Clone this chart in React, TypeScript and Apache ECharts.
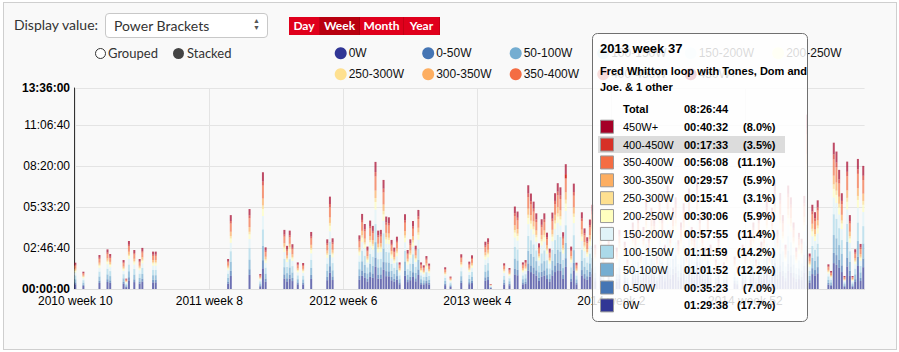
import React, { useEffect, useRef } from "react";
import * as echarts from "echarts";

// ---------- data ----------
const START_YEAR = 2010;
const START_WEEK = 10;
const WEEKS_PER_YEAR = 52;
const WEEK_COUNT = 295;

const categories: string[] = [];
for (let i = 0; i < WEEK_COUNT; i++) {
  const n = START_WEEK - 1 + i;
  categories.push(`${START_YEAR + Math.floor(n / WEEKS_PER_YEAR)} week ${(n % WEEKS_PER_YEAR) + 1}`);
}

const brackets = ["0W", "0-50W", "50-100W", "100-150W", "150-200W", "200-250W", "250-300W", "300-350W", "350-400W", "400-450W", "450W+"];
const bracketColors = ["#313695", "#4575b4", "#74add1", "#abd9e9", "#e0f3f8", "#ffffbf", "#fee090", "#fdae61", "#f46d43", "#d73027", "#a50026"];

// weekly total ride time (hours)
const weeklyTotalHours = [
  1.78, 0, 0, 1.17, 0, 0, 0, 0, 0, 2.3,
  0, 0, 2.68, 2.37, 0, 0, 0, 0, 1.96, 0.7,
  3.25, 0, 2.64, 0, 2.03, 2.78, 0, 0, 0, 2.53,
  2.53, 0, 0, 0, 0, 0, 0, 0, 0, 0,
  0, 0, 0, 0, 0, 0, 0, 0, 0, 0,
  0, 0, 0, 0, 0, 0, 0, 2.03, 5.0, 0,
  0, 0, 0, 0, 0, 5.41, 0, 0, 0, 1.01,
  7.9, 2.82, 0, 0, 0, 0, 0, 0, 4.0, 2.92,
  3.95, 3.03, 0, 1.8, 0, 1.76, 0, 0, 3.86, 0,
  0, 0, 0, 0, 3.36, 6.25, 3.43, 0, 0, 0,
  0, 0, 0, 0, 0, 0, 3.63, 5.08, 4.4, 2.87,
  4.63, 4.27, 8.6, 3.95, 4.0, 7.38, 4.9, 4.85, 3.32, 2.8,
  3.54, 1.8, 0, 5.06, 2.64, 3.36, 4.6, 2.93, 5.35, 1.8,
  1.6, 2.23, 1.72, 0, 0, 0, 0, 0, 1.47, 0,
  0.84, 0, 0, 0, 2.35, 0, 0, 1.85, 2.28, 0,
  0, 0, 0, 3.2, 3.43, 0.34, 0, 0, 0, 0,
  1.74, 0, 1.42, 0, 5.58, 5.24, 0, 1.8, 1.96, 7.02,
  6.46, 5.91, 5.12, 3.09, 4.72, 5.12, 3.81, 2.73, 5.17, 6.48,
  7.16, 6.88, 3.84, 8.4456, 0, 2.87, 7.13, 1.78, 0, 5.19,
  4.1, 3.5, 4.7, 5.7, 3.0, 0, 4.2, 2.5, 0, 3.5,
  1.5, 0, 2.8, 4.0, 0, 3.2, 2.0, 0, 4.5, 3.8,
  5.0, 2.5, 4.2, 6.0, 3.5, 5.5, 4.8, 2.2, 6.5, 5.0,
  3.0, 7.0, 4.0, 5.5, 6.2, 3.3, 4.5, 5.8, 2.5, 6.8,
  4.2, 3.6, 7.5, 5.0, 4.0, 2.8, 5.2, 3.0, 0, 2.0,
  3.5, 0, 1.8, 2.6, 0, 0, 2.2, 1.5, 0, 3.0,
  2.4, 0, 3.8, 4.5, 2.0, 5.0, 3.2, 4.0, 6.0, 2.5,
  5.5, 7.2, 4.0, 6.5, 5.0, 3.0, 7.0, 6.2, 4.5, 2.8,
  3.8, 3.4, 6.3, 11.8, 2.4, 5.7, 5.2, 6.0, 0, 0,
  0, 1.67, 1.22, 9.9, 9.3, 8.06, 6.48, 0.88, 8.62, 5.0,
  0.88, 2.69, 8.8, 3.05, 8.33,
];

// breakdown of the hovered week (2013 week 37), seconds per bracket (0W .. 450W+)
const hoverIndex = 183;
const hoverBracket = 9; // 400-450W row highlighted
const hoverBreakdownSec = [5378, 2123, 3712, 4319, 3475, 1806, 941, 1797, 3368, 1053, 2432];
const hoverTitle = "2013 week 37";
const hoverRideLines = ["Fred Whitton loop with Tones, Dom and", "Joe. & 1 other"];

const yTickMax = 48960;
const yTickInterval = 10000;

// legend columns (two rows)
const legendColumns = [
  ["0W", "250-300W"],
  ["0-50W", "300-350W"],
  ["50-100W", "350-400W"],
  ["100-150W", "400-450W"],
  ["150-200W", "450W+"],
  ["200-250W"],
];

// ---------- helpers ----------
const hms = (s: number) => {
  const h = Math.floor(s / 3600);
  const m = Math.floor((s % 3600) / 60);
  const sec = Math.round(s % 60);
  const p = (n: number) => String(n).padStart(2, "0");
  return `${p(h)}:${p(m)}:${p(sec)}`;
};

const hoverTotal = hoverBreakdownSec.reduce((a, b) => a + b, 0);

function buildOption() {
  const series = brackets.map((name, k) => ({
    name,
    type: "bar",
    stack: "total",
    barCategoryGap: "25%",
    silent: true,
    itemStyle: { color: bracketColors[k], opacity: 0.7 },
    emphasis: { disabled: true },
    data: weeklyTotalHours.map((h, i) => {
      if (i === hoverIndex) {
        const v = hoverBreakdownSec[k];
        return k === hoverBracket ? { value: v, itemStyle: { opacity: 1 } } : v;
      }
      return h > 0 ? Math.round(h * 3600 * (hoverBreakdownSec[k] / hoverTotal)) : 0;
    }),
  }));

  const font = "Liberation Sans, Arial, Helvetica, sans-serif";
  const legends = legendColumns.map((items, c) => ({
    data: items,
    orient: "vertical",
    left: 334.7 + 87.5 * c,
    top: 47.3,
    padding: 0,
    itemGap: 9,
    itemWidth: 12,
    itemHeight: 12,
    icon: "circle",
    selectedMode: false,
    itemStyle: { opacity: 1 },
    textStyle: { fontSize: 12, color: "#111", fontFamily: font, padding: [0, 0, 0, -3] },
  }));

  // tooltip drawn as graphic
  const g: any[] = [];
  const Z = 100;
  g.push({
    type: "rect", z: Z,
    shape: { x: 592.5, y: 33.5, width: 215, height: 288, r: 5 },
    style: { fill: "rgba(255,255,255,0.84)", stroke: "#707070", lineWidth: 1 },
  });
  const rowY0 = 126.7;
  const rowStep = 17.87;
  const rowOrder = brackets.map((_, k) => brackets.length - 1 - k);
  const hlRow = rowOrder.indexOf(hoverBracket);
  g.push({
    type: "rect", z: Z + 1,
    shape: { x: 598, y: rowY0 + rowStep * hlRow - 8.5, width: 187, height: 17 },
    style: { fill: "#dcdcdc" },
  });
  g.push({ type: "text", z: Z + 2, style: { text: hoverTitle, x: 600, y: 48, font: `bold 13px ${font}`, fill: "#000", textVerticalAlign: "middle" } });
  hoverRideLines.forEach((t, j) =>
    g.push({ type: "text", z: Z + 2, style: { text: t, x: 600, y: 71 + 16 * j, font: `bold 11px ${font}`, fill: "#000", textVerticalAlign: "middle" } })
  );
  g.push({ type: "text", z: Z + 2, style: { text: "Total", x: 623, y: 109.3, font: `bold 11px ${font}`, fill: "#000", textVerticalAlign: "middle" } });
  g.push({ type: "text", z: Z + 2, style: { text: hms(hoverTotal), x: 684, y: 109.3, font: `bold 11px ${font}`, fill: "#000", textVerticalAlign: "middle" } });
  rowOrder.forEach((k, r) => {
    const yc = rowY0 + rowStep * r;
    g.push({
      type: "rect", z: Z + 2,
      shape: { x: 600.5, y: yc - 6.5, width: 13, height: 13 },
      style: { fill: bracketColors[k], stroke: "#9a9a9a", lineWidth: 1 },
    });
    g.push({ type: "text", z: Z + 2, style: { text: brackets[k], x: 623, y: yc, font: `11px ${font}`, fill: "#000", textVerticalAlign: "middle" } });
    g.push({ type: "text", z: Z + 2, style: { text: hms(hoverBreakdownSec[k]), x: 684, y: yc, font: `bold 11px ${font}`, fill: "#000", textVerticalAlign: "middle" } });
    g.push({
      type: "text", z: Z + 2,
      style: {
        text: `(${((hoverBreakdownSec[k] / hoverTotal) * 100).toFixed(1)}%)`,
        x: 775.5, y: yc, font: `bold 11px ${font}`, fill: "#000", textAlign: "right", textVerticalAlign: "middle",
      },
    });
  });

  return {
    animation: false,
    grid: { left: 74, top: 88, width: 790.6, height: 201, containLabel: false },
    legend: legends,
    xAxis: {
      type: "category",
      data: categories,
      axisLine: { show: true, lineStyle: { color: "#dedede" } },
      axisTick: { show: false },
      axisLabel: { interval: 49, color: "#000", fontSize: 12, fontFamily: font, margin: 6 },
      splitLine: { show: true, interval: 49, alignWithLabel: true, lineStyle: { color: "#e4e4e4" } },
    },
    yAxis: {
      type: "value",
      min: 0,
      max: yTickMax,
      interval: yTickInterval,
      axisLine: { show: true, lineStyle: { color: "#333", width: 1 } },
      axisTick: { show: false },
      splitLine: { lineStyle: { color: "#e4e4e4" } },
      axisLabel: {
        color: "#000",
        fontSize: 12,
        fontFamily: font,
        margin: 4,
        formatter: (v: number) => (v === 0 || v === yTickMax ? `{b|${hms(v)}}` : hms(v)),
        rich: { b: { fontWeight: "bold", fontSize: 12, fontFamily: font, color: "#000" } },
      },
    },
    series,
    graphic: g,
  };
}

const uiFont = "Lato, 'Open Sans', sans-serif";

export default function App() {
  const ref = useRef<HTMLDivElement>(null);
  useEffect(() => {
    if (!ref.current) return;
    const chart = echarts.init(ref.current, null, { renderer: "svg" });
    chart.setOption(buildOption() as any);
    return () => chart.dispose();
  }, []);

  const btn = (label: string, left: number, width: number, active: boolean) => (
    <div
      key={label}
      style={{
        position: "absolute", left, top: 17, width, height: 18,
        background: active ? "#b8000f" : "#e0001c",
        color: "#fff", fontFamily: uiFont, fontWeight: 700, fontSize: 12,
        lineHeight: "18px", textAlign: "center",
        borderRight: "1px solid rgba(120,0,0,0.25)", boxSizing: "border-box",
      }}
    >
      {label}
    </div>
  );

  return (
    <div style={{ position: "absolute", left: 0, top: 0, width: 899, height: 352, background: "#fff", overflow: "hidden" }}>
      <div style={{ position: "absolute", left: 3, top: 2, width: 894, height: 348, border: "1px solid #cfcfcf", background: "#f9f9f9", boxSizing: "border-box" }} />
      <div ref={ref} style={{ position: "absolute", left: 0, top: 0, width: 899, height: 352 }} />
      <div style={{ position: "absolute", left: 14, top: 15, fontFamily: uiFont, fontSize: 14, color: "#333", lineHeight: "20px" }}>Display value:</div>
      <div style={{ position: "absolute", left: 105, top: 13, width: 163, height: 25, border: "1px solid #c8c8c8", borderRadius: 4, background: "#fff", boxSizing: "border-box" }}>
        <div style={{ position: "absolute", left: 8, top: 2, fontFamily: uiFont, fontSize: 14, color: "#333", lineHeight: "20px" }}>Power Brackets</div>
        <div style={{ position: "absolute", right: 7, top: 4, fontSize: 7, lineHeight: "7px", color: "#555", textAlign: "center" }}>▲<br />▼</div>
      </div>
      {btn("Day", 289, 31, false)}
      {btn("Week", 320, 40, true)}
      {btn("Month", 360, 44, false)}
      {btn("Year", 404, 36, false)}
      <div style={{ position: "absolute", left: 95, top: 48, width: 11, height: 11, borderRadius: "50%", border: "1.5px solid #333", background: "#fff", boxSizing: "border-box" }} />
      <div style={{ position: "absolute", left: 108, top: 44, fontFamily: uiFont, fontSize: 13, color: "#333", lineHeight: "18px" }}>Grouped</div>
      <div style={{ position: "absolute", left: 173, top: 48, width: 11, height: 11, borderRadius: "50%", background: "#444" }} />
      <div style={{ position: "absolute", left: 187, top: 44, fontFamily: uiFont, fontSize: 13, color: "#333", lineHeight: "18px" }}>Stacked</div>
    </div>
  );
}
